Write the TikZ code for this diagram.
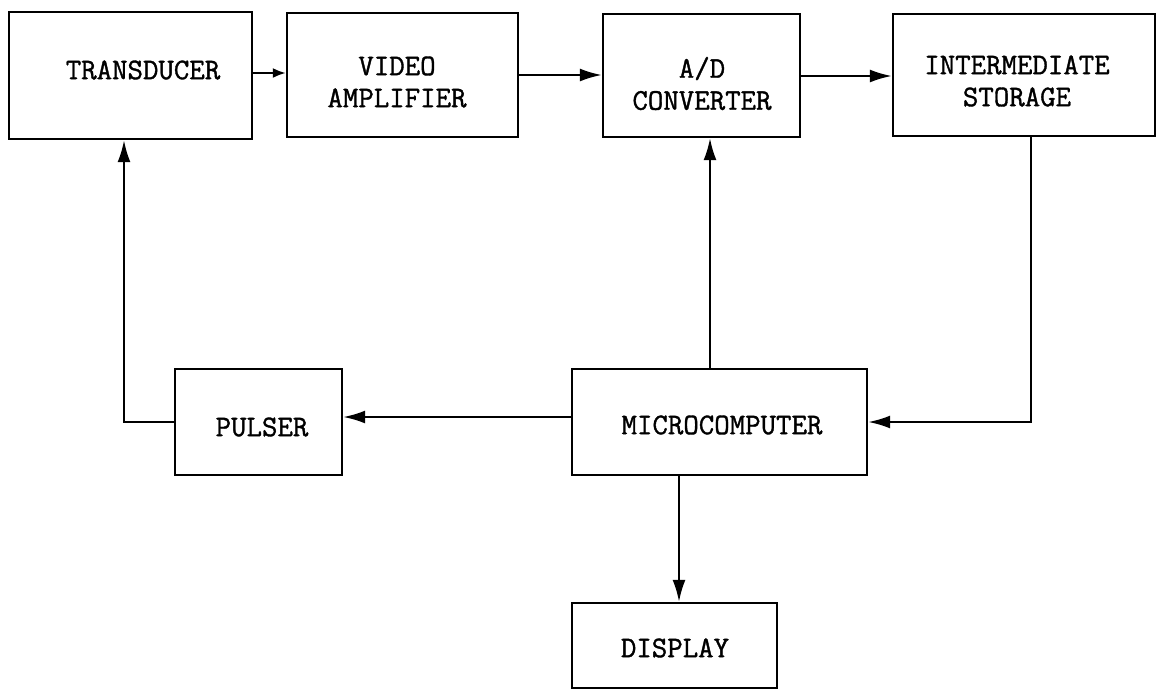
\documentclass[tikz,border=0pt]{standalone}
\usepackage{fontspec}
\newfontfamily\twfont{Latin Modern Mono}[FakeBold=1.2,AutoFakeBold=1.2]
\usetikzlibrary{arrows.meta}
\begin{document}
\begin{tikzpicture}[x=1pt,y=-1pt,
  box/.style={draw, line width=2.4pt, rectangle, inner sep=0pt},
  txt/.style={font=\fontsize{30}{32}\selectfont\twfont\bfseries, align=center, inner sep=0pt},
  wire/.style={line width=2.2pt},
  arr/.style={wire, -{Latex[length=22pt,width=13pt]}},
  sarr/.style={wire, -{Latex[length=13pt,width=10pt]}}]
\useasboundingbox (0,0) rectangle (1158,691);
% boxes
\node[box, minimum width=243pt, minimum height=127pt] (trans)  at (130.5,75.5) {};
\node[box, minimum width=231pt, minimum height=124pt] (video)  at (402.5,75) {};
\node[box, minimum width=197pt, minimum height=123pt] (ad)     at (701.5,75.5) {};
\node[box, minimum width=262pt, minimum height=122pt] (inter)  at (1024,75) {};
\node[box, minimum width=167pt, minimum height=106pt] (pulser) at (258.5,422) {};
\node[box, minimum width=295pt, minimum height=106pt] (micro)  at (719.5,422) {};
\node[box, minimum width=205pt, minimum height=85pt]  (disp)   at (674.5,645.5) {};
% labels
\node[txt] (transT)  at (143,70)   {TRANSDUCER};
\node[txt] (videoT)  at (397,82)   {VIDEO\\AMPLIFIER};
\node[txt] (adT)     at (702,83.5) {A/D\\CONVERTER};
\node[txt] (interT)  at (1017,81)  {INTERMEDIATE\\STORAGE};
\node[txt] (pulserT) at (262,427)  {PULSER};
\node[txt] (microT)  at (722,425)  {MICROCOMPUTER};
\node[txt] (dispT)   at (675,648)  {DISPLAY};
% helper coordinates
\coordinate (y1) at (0,73);
\coordinate (y2) at (0,75);
\coordinate (y3) at (0,76);
\coordinate (yp) at (0,417);
\coordinate (xr) at (1031,0);
\coordinate (xl) at (124,0);
\coordinate (xm) at (710,0);
\coordinate (xd) at (679,0);
% connectors
\draw[sarr] (trans.east |- y1) -- (video.west |- y1);
\draw[arr]  (video.east |- y2) -- (ad.west |- y2);
\draw[arr]  (ad.east |- y3) -- (inter.west |- y3);
\draw[arr]  (inter.south -| xr) |- (micro.east);
\draw[arr]  (micro.west |- yp) -- (pulser.east |- yp);
\draw[arr]  (pulser.west) -| (trans.south -| xl);
\draw[arr]  (micro.north -| xm) -- (ad.south -| xm);
\draw[arr]  (micro.south -| xd) -- (disp.north -| xd);
\end{tikzpicture}
\end{document}
